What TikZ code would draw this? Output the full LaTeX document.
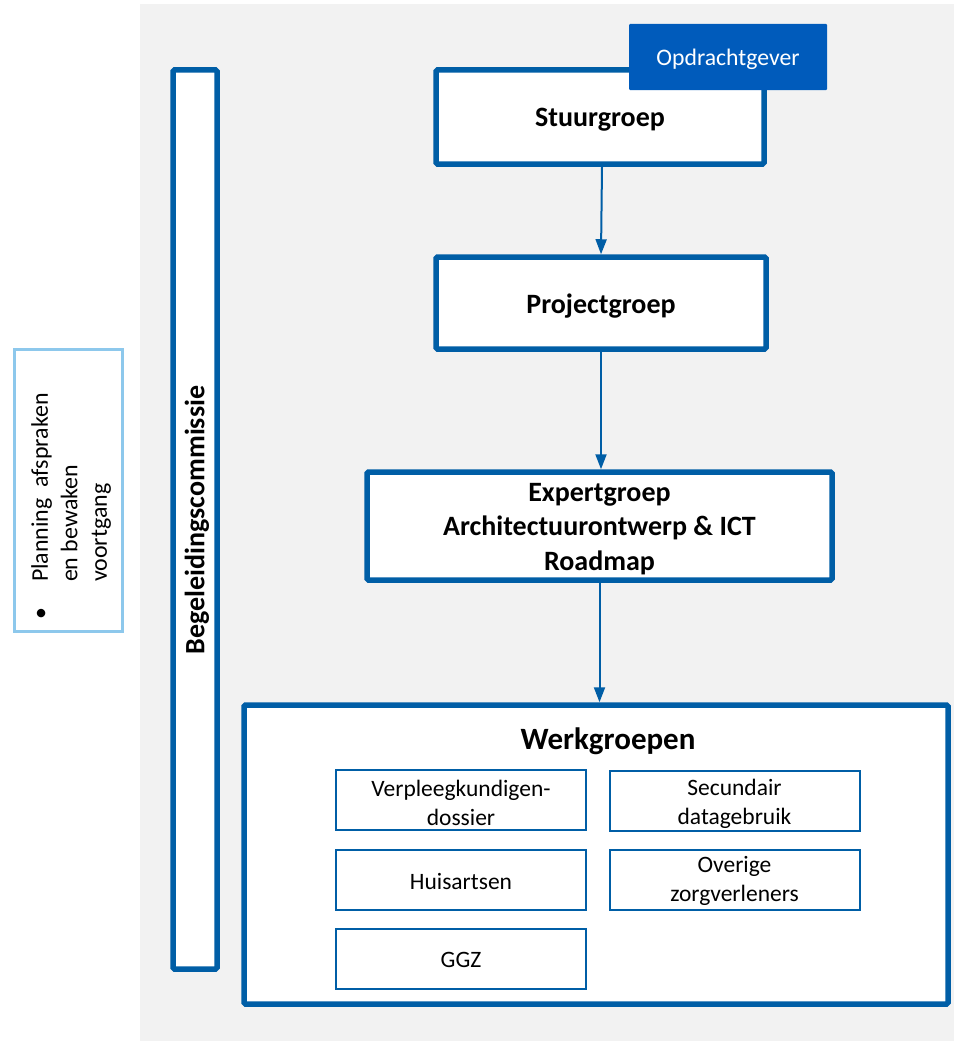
\documentclass[tikz,border=0pt]{standalone}
\usepackage{fontspec}
\setmainfont{Carlito}
\usetikzlibrary{arrows.meta}
\definecolor{bgray}{RGB}{242,242,242}
\definecolor{dblue}{RGB}{0,94,166}
\definecolor{fblue}{RGB}{0,91,187}
\definecolor{lblue}{RGB}{141,200,236}
\tikzset{
  bigbox/.style={draw=dblue, fill=white, line width=5.5pt, rounded corners=1.5pt, inner sep=0pt},
  bigtext/.style={inner sep=0pt, align=center, font=\fontsize{28}{34.5}\selectfont\bfseries},
  smallbox/.style={draw=dblue, fill=white, line width=2pt, inner sep=0pt,
    minimum width=250pt, minimum height=60pt},
  smalltext/.style={inner sep=0pt, align=center, font=\fontsize{23.5}{28.5}\selectfont},
  conn/.style={draw=dblue, line width=2pt, -{Triangle[length=15pt,width=11pt]}}
}
\begin{document}
\begin{tikzpicture}[x=1pt,y=-1pt]
\useasboundingbox (0,0) rectangle (954,1041);
\fill[bgray] (140,4) rectangle (954,1041);
% left note box
\node[draw=lblue, line width=3pt, fill=white, minimum width=108pt, minimum height=282pt, inner sep=0pt] (note) at (68.5,490) {};
\node[rotate=90, anchor=north west, inner sep=0pt, font=\fontsize{23.9}{29.5}\selectfont] (notetext) at (27,620)
  {\begin{tabular}{@{}l@{\hspace{26pt}}l@{}}•& Planning\ \ afspraken\\ & en bewaken\\ & voortgang\end{tabular}};
% Begeleidingscommissie bar
\node[bigbox, minimum width=44pt, minimum height=899pt] (bc) at (195,519.5) {};
\node[bigtext, rotate=90] (bctext) at (197,520) {Begeleidingscommissie};
% main chain
\node[bigbox, minimum width=328pt, minimum height=94pt] (sg) at (600,117) {};
\node[bigtext] (sgtext) at (600,120) {Stuurgroep};
\node[fill=fblue, rounded corners=1pt, minimum width=198pt, minimum height=66pt, inner sep=0pt] (og) at (728,57) {};
\node[inner sep=0pt, text=white, font=\fontsize{23.7}{28.5}\selectfont] (ogtext) at (728,59.5) {Opdrachtgever};
\node[bigbox, minimum width=330pt, minimum height=92pt] (pg) at (601,303) {};
\node[bigtext] (pgtext) at (601,306) {Projectgroep};
\node[bigbox, minimum width=465pt, minimum height=108pt] (eg) at (599.5,526) {};
\node[bigtext] (egtext) at (599.5,529) {Expertgroep\\Architectuurontwerp \& ICT\\Roadmap};
\node[bigbox, minimum width=704pt, minimum height=299pt] (wg) at (596,854.5) {};
\node[inner sep=0pt, font=\fontsize{31}{37}\selectfont\bfseries] (wgtitle) at (608,741) {Werkgroepen};
\node[smallbox] (vd) at (461,800) {};
\node[smalltext] (vdtext) at (461,803) {Verpleegkundigen-\\dossier};
\node[smallbox] (sd) at (734.5,801) {};
\node[smalltext] (sdtext) at (734.5,804) {Secundair\\datagebruik};
\node[smallbox] (ha) at (461,879.5) {};
\node[smalltext] (hatext) at (461,881) {Huisartsen};
\node[smallbox] (oz) at (734.5,879.5) {};
\node[smalltext] (oztext) at (734.5,881) {Overige\\zorgverleners};
\node[smallbox] (ggz) at (461,958.5) {};
\node[smalltext] (ggztext) at (461,960) {GGZ};
% connectors
\draw[conn] ([xshift=2pt]sg.south) -- (pg.north);
\draw[conn] (pg.south) -- (pg.south |- eg.north);
\draw[conn] (eg.south) -- (eg.south |- wg.north);
\end{tikzpicture}
\end{document}
